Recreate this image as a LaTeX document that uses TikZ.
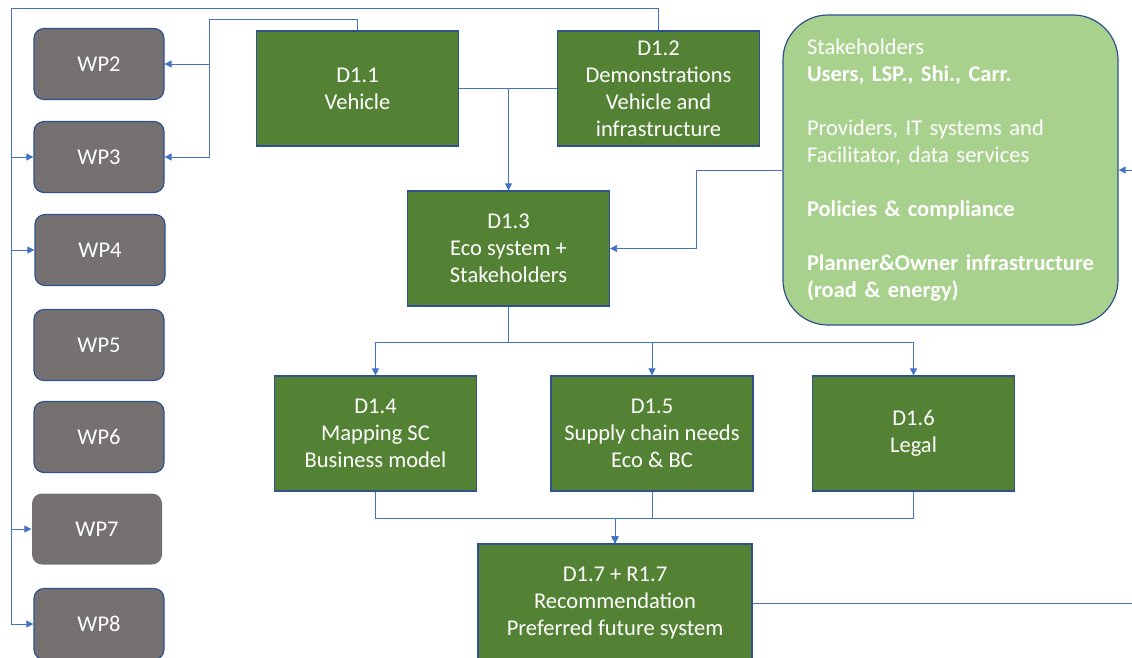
\documentclass[tikz,border=0pt]{standalone}
\usepackage{fontspec}
\setmainfont{Carlito}
\usetikzlibrary{arrows.meta}
\definecolor{boxgreen}{HTML}{548235}
\definecolor{lightgreen}{HTML}{A9D18E}
\definecolor{wpgrey}{HTML}{767171}
\definecolor{edgeblue}{HTML}{2F528F}
\definecolor{linkblue}{HTML}{4472C4}
\begin{document}
\begin{tikzpicture}[x=1pt,y=-1pt,
    wp/.style={draw=edgeblue, line width=1.2pt, fill=wpgrey, rounded corners=10pt, minimum width=130pt, minimum height=71pt, text=white, font=\fontsize{22.5}{27}\selectfont},
    deliv/.style={draw=edgeblue, line width=1.2pt, fill=boxgreen, minimum width=202pt, minimum height=115pt, text=white, align=center, font=\fontsize{22.5}{27}\selectfont},
    stake/.style={draw=edgeblue, line width=1.2pt, fill=lightgreen, rounded corners=45pt, minimum width=335pt, minimum height=310pt, inner xsep=24pt, text width=287pt, text=white, align=left, font=\fontsize{22.5}{27}\selectfont},
    link/.style={draw=linkblue, line width=0.8pt},
    tip/.style={-{Triangle[length=7pt,width=7pt]}}]
\useasboundingbox (0,0) rectangle (1132,657);
\node[wp] (wp2) at (99,64) {WP2};
\node[wp] (wp3) at (99,157) {WP3};
\node[wp] (wp4) at (100,250) {WP4};
\node[wp] (wp5) at (99,345) {WP5};
\node[wp] (wp6) at (99,437) {WP6};
\node[wp, draw=none] (wp7) at (97,529) {WP7};
\node[wp] (wp8) at (99,624) {WP8};
\node[deliv] (d11) at (357.5,88.5) {D1.1\\Vehicle};
\node[deliv] (d12) at (658.5,88.5) {D1.2\\Demonstrations\\Vehicle and\\infrastructure};
\node[deliv] (d13) at (508.5,248.5) {D1.3\\Eco system +\\Stakeholders};
\node[deliv] (d14) at (375.5,433.5) {D1.4\\Mapping SC\\Business model};
\node[deliv] (d15) at (652,433.5) {D1.5\\Supply chain needs\\Eco \& BC};
\node[deliv] (d16) at (913.5,433.5) {D1.6\\Legal};
\node[deliv, minimum width=274pt, minimum height=118pt] (d17) at (615,603) {D1.7 + R1.7\\Recommendation\\Preferred future system};
\node[stake] (stake) at (950.5,170) {Stakeholders\\
    \textbf{Users, LSP., Shi., Carr.}\\[27pt]
    Providers, IT systems and\\
    Facilitator, data services\\[27pt]
    \textbf{Policies \& compliance}\\[27pt]
    \textbf{Planner\&Owner infrastructure}\\
    \textbf{(road \& energy)}};
\coordinate (top1) at (209,19);
\coordinate (top2) at (11,8);
\coordinate (rin) at (1132,170);
\coordinate (rout) at (1132,603);
\draw[link] (d11.north) |- (top1);
\draw[link,tip] (top1) |- (wp2.east);
\draw[link,tip] (top1) |- (wp3.east);
\draw[link] (d12.north) |- (top2);
\draw[link,tip] (top2) |- (wp3.west);
\draw[link,tip] (top2) |- (wp4.west);
\draw[link,tip] (top2) |- (wp7.west);
\draw[link,tip] (top2) |- (wp8.west);
\draw[link] (d11.east) -- (d12.west);
\draw[link,tip] (d13.north |- d11.east) -- (d13.north);
\draw[link,tip] (stake.west) -- ++(-86,0) |- (d13.east);
\draw[link,tip] (rin) -- (stake.east);
\draw[link,tip] (d13.south) -- ++(0,36) -| (d14.north);
\draw[link,tip] (d13.south) -- ++(0,36) -| (d15.north);
\draw[link,tip] (d13.south) -- ++(0,36) -| (d16.north);
\draw[link,tip] (d14.south) -- ++(0,27) -| (d17.north);
\draw[link,tip] (d15.south) -- ++(0,27) -| (d17.north);
\draw[link,tip] (d16.south) -- ++(0,27) -| (d17.north);
\draw[link] (d17.east) -- (rout);
\end{tikzpicture}
\end{document}
